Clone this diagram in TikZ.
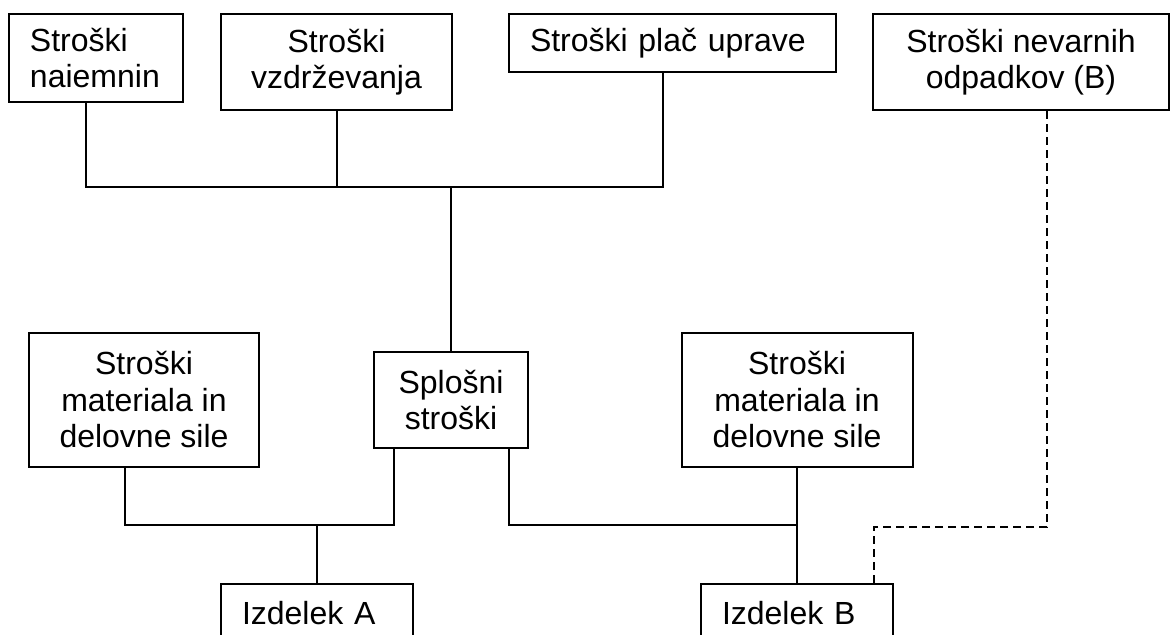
\documentclass[tikz,border=0pt]{standalone}
\usepackage{fontspec}
\setmainfont{Liberation Sans}
\newcommand{\boxfont}{\fontsize{32}{36.5}\selectfont}
\tikzstyle{box}=[draw,line width=2pt,inner sep=0pt,font=\boxfont]
\tikzstyle{lbox}=[box,inner xsep=21pt,align=left]
\tikzstyle{cbox}=[box,align=center]
\tikzstyle{wire}=[line width=2pt]
\tikzstyle{dwire}=[wire,dash pattern=on 8pt off 5pt]

\begin{document}
\begin{tikzpicture}[x=1pt,y=-1pt]
    \useasboundingbox (0,0) rectangle (1171,635);
%   cost sources
    \node[lbox,text width=132pt,minimum height=88pt] (nai) at (96,58) {Stroški\\naiemnin};
    \node[cbox,minimum width=231pt,minimum height=96pt] (vzd) at (336.5,62) {Stroški\\vzdrževanja};
    \node[lbox,text width=285pt,minimum height=58pt] (plac) at (672.5,43) {Stroški plač uprave};
    \node[cbox,minimum width=296pt,minimum height=96pt] (odp) at (1021,62) {Stroški nevarnih\\odpadkov (B)};
    \node[cbox,minimum width=230pt,minimum height=134pt] (matA) at (144,400) {Stroški\\materiala in\\delovne sile};
    \node[cbox,minimum width=154pt,minimum height=96pt] (splo) at (451,400) {Splošni\\stroški};
    \node[cbox,minimum width=231pt,minimum height=134pt] (matB) at (797,400) {Stroški\\materiala in\\delovne sile};
%   products
    \node[lbox,anchor=north,inner ysep=17pt,text width=150pt,text depth=40pt] (izdA) at (317,583) {Izdelek A};
    \node[lbox,anchor=north,inner ysep=17pt,text width=150pt,text depth=40pt] (izdB) at (797,583) {Izdelek B};
    \coordinate (jtop) at (451,187);
    \coordinate (jA) at (317,525);
    \coordinate (jB) at (797,525);
    \coordinate (jD) at (874,527);
    \draw[wire] ([xshift=-10pt]nai.south) |- (jtop) -| ([xshift=-10pt]plac.south);
    \draw[wire] (vzd.south) -- (vzd.south |- jtop);
    \draw[wire] (jtop) -- (splo.north);
    \draw[wire] ([xshift=-19pt]matA.south) |- (jA) -| ([xshift=-57pt]splo.south);
    \draw[wire] (jA) -- (izdA.north);
    \draw[wire] ([xshift=58pt]splo.south) |- (jB);
    \draw[wire] (matB.south) -- (izdB.north);
%   waste cost only for B
    \draw[dwire] ([xshift=26pt]odp.south) |- (jD) -| ([xshift=77pt]izdB.north);
\end{tikzpicture}
\end{document}
